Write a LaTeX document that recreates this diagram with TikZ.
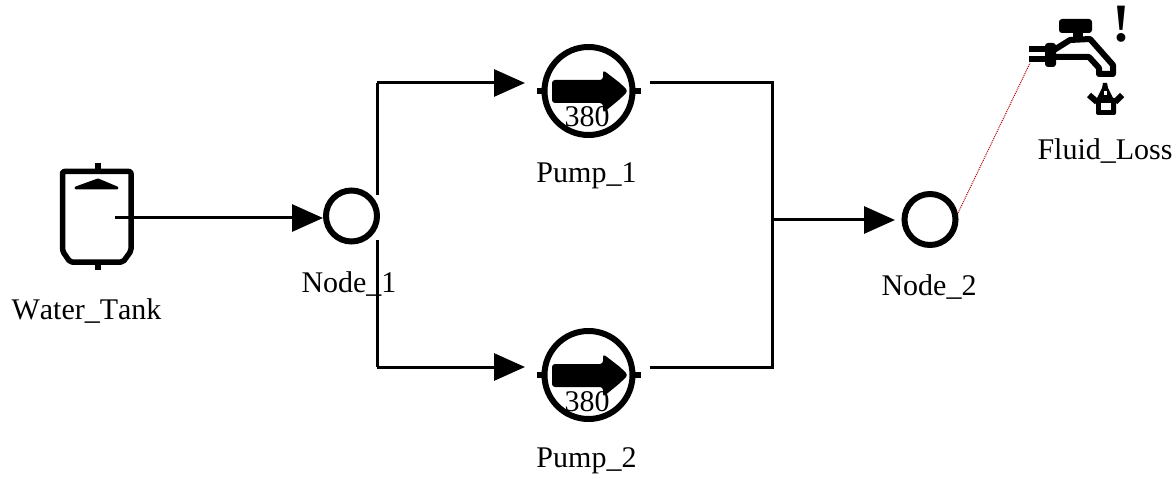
\documentclass[tikz,border=0pt]{standalone}
\usepackage{fontspec}
\setmainfont[Kerning=Off]{Liberation Serif}
\usetikzlibrary{arrows.meta}
\tikzset{
    label text/.style={anchor=base, inner sep=0pt, font=\fontsize{30}{36}\selectfont},
    junction/.style={circle, draw, line width=6pt, minimum size=51pt, inner sep=0pt},
    pump body/.style={circle, draw, line width=6pt, minimum size=88pt, inner sep=0pt},
    pipe/.style={line width=3pt},
    flow/.style={line width=3pt, -{Triangle[length=31pt,width=27pt]}},
    icon/.style={line width=5.5pt, line join=round},
    leak/.style={draw=red!70!black, line width=1pt, densely dotted}
}
\begin{document}
\begin{tikzpicture}[x=1pt,y=-1pt]
    \useasboundingbox (0,0) rectangle (1174,478);

    % tank
    \draw[icon, rounded corners=2pt] (62.5,171.5) -- (131,171.5) -- (131,251) -- (123,262) -- (70,262) -- (62.5,251) -- cycle;
    \draw[icon] (98,163) -- (98,172);
    \draw[icon] (98,262) -- (98,270);
    \fill[line join=round, draw, line width=3pt] (76,188) -- (98,180) -- (117,188) -- cycle;
    \node[label text] (tank_label) at (86.5,319) {Water\_Tank};
    \coordinate (tank_out) at (115,218);

    % nodes
    \node[junction] (node_1) at (351.5,216) {};
    \node[label text] (node_1_label) at (349,292) {Node\_1};
    \node[junction] (node_2) at (930,219.5) {};
    \node[label text] (node_2_label) at (929,295) {Node\_2};

    % pumps
    \foreach \name/\ypos/\num in {pump_1/91/1, pump_2/375/2} {
        \node[pump body] (\name) at (588.5,\ypos) {};
        \draw[icon, line width=6pt, line cap=butt] (\name.west) ++(-5,0) -- ++(8,0);
        \draw[icon, line width=6pt, line cap=butt] (\name.east) ++(-3,0) -- ++(8,0);
        \fill[rounded corners=3pt] (552,\ypos-11) -- (603,\ypos-11) -- (603,\ypos-21) -- (620,\ypos-8) -- (628,\ypos) -- (620,\ypos+8) -- (603,\ypos+22) -- (603,\ypos+12) -- (552,\ypos+12) -- cycle;
        \node[label text] (\name_speed) at (587,\ypos+36) {380};
        \node[label text] (\name_label) at (586.5,\ypos+92) {Pump\_\num};
    }

    % pipe junctions
    \coordinate (bus_a_top) at (377,83);
    \coordinate (bus_a_up) at (377,195);
    \coordinate (bus_a_down) at (377,240);
    \coordinate (bus_a_bot) at (377,367);
    \coordinate (pump_1_in) at (525,83);
    \coordinate (pump_2_in) at (525,367);
    \coordinate (pump_1_out) at (650,83);
    \coordinate (pump_2_out) at (650,367);
    \coordinate (bus_b_top) at (772,83);
    \coordinate (bus_b_bot) at (772,367);
    \coordinate (bus_b_mid) at (772,220);
    \coordinate (node_2_in) at (895,220);

    \draw[flow] (tank_out) -- (node_1.west |- tank_out);
    \draw[pipe] (bus_a_up) -- (bus_a_top);
    \draw[flow] (bus_a_top) -- (pump_1_in);
    \draw[pipe] (bus_a_down) -- (bus_a_bot);
    \draw[flow] (bus_a_bot) -- (pump_2_in);
    \draw[pipe] (pump_1_out) -- (bus_b_top) -- (bus_b_bot) -- (pump_2_out);
    \draw[flow] (bus_b_mid) -- (node_2_in);

    % fluid loss
    \coordinate (tap_in) at (1030,63);
    \coordinate (node_2_leak) at (958,213);
    \draw[leak] (node_2_leak) -- (tap_in);
    \fill[rounded corners=3pt] (1059,19) rectangle (1092,33);
    \fill (1073,30) rectangle (1083,42);
    \fill[rounded corners=3pt] (1045,43) rectangle (1056,67);
    \draw[icon, line width=6pt, line join=miter] (1029,49) -- (1046,49);
    \draw[icon, line width=6pt, line join=miter] (1029,59) -- (1046,59);
    \draw[icon, line width=6pt] (1054,50) -- (1070,40) -- (1090,39) -- (1113,65) -- (1113,74) -- (1099,74) -- (1099,68) -- (1089,57) -- (1054,57);
    \fill (1103,83) -- (1107,83) -- (1108,88) -- (1113,98) -- (1097,98) -- (1102,88) -- cycle;
    \fill[rounded corners=2pt] (1096,98) rectangle (1116,115);
    \fill[white] (1101,103) rectangle (1111,110);
    \fill[white] (1103.5,91) rectangle (1106.5,95);
    \draw[icon, line width=6pt, line join=miter] (1089,95) -- (1097,102);
    \draw[icon, line width=6pt, line join=miter] (1122,95) -- (1115,102);
    \node[inner sep=0pt, font=\fontsize{54}{60}\selectfont\bfseries] (alert) at (1121,24) {!};
    \node[label text] (tap_label) at (1105,160) {Fluid\_Loss};
\end{tikzpicture}
\end{document}
